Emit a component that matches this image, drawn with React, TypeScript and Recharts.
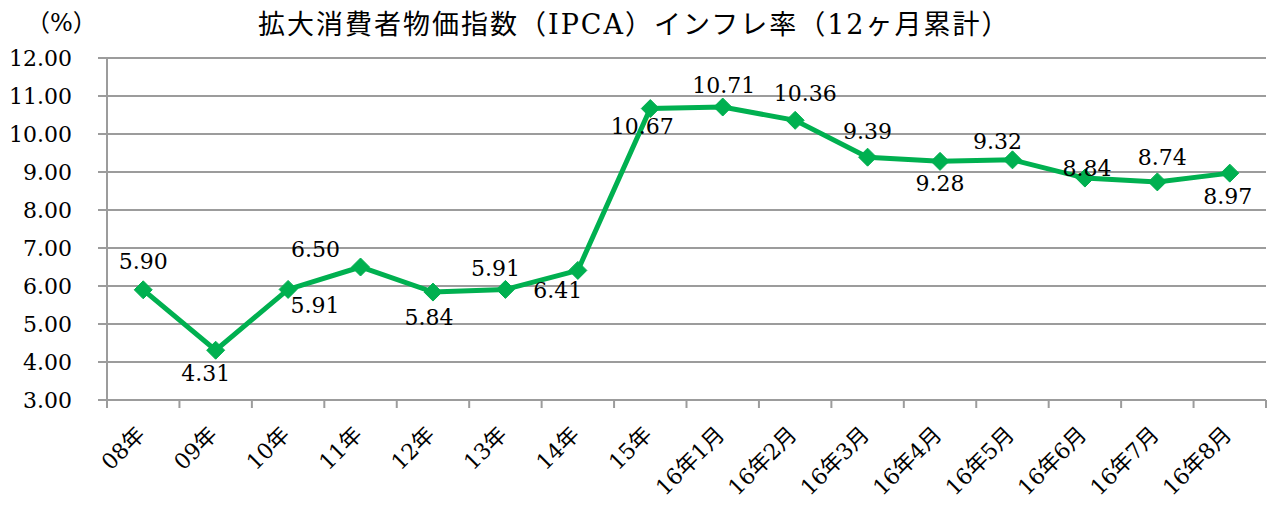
import { LineChart, Line, XAxis, YAxis, CartesianGrid, LabelList } from 'recharts'

const categories = [
  '08年', '09年', '10年', '11年', '12年', '13年', '14年', '15年',
  '16年1月', '16年2月', '16年3月', '16年4月', '16年5月', '16年6月', '16年7月', '16年8月',
]
const inflation = [5.9, 4.31, 5.91, 6.5, 5.84, 5.91, 6.41, 10.67, 10.71, 10.36, 9.39, 9.28, 9.32, 8.84, 8.74, 8.97]
const yTicks = [3, 4, 5, 6, 7, 8, 9, 10, 11, 12]

// where each data label sits relative to its marker (as in the original)
const labelOffsets: Array<[number, number]> = [
  [0, -29], [-10, 23], [27, 16], [-45, -18], [-4, 25], [-10, -21], [-20, 20], [-8, 18],
  [1, -22], [10, -27], [0, -26], [0, 22], [-15, -19], [2, -10], [5, -25], [-2, 23],
]

const GREEN = '#00b050'
const GRID = '#9c9c9c'
const FONT = '"DejaVu Serif", "Noto Sans CJK JP", serif'

const data = categories.map((name, i) => ({ name, x: i + 0.5, value: inflation[i] }))
const xTicks: number[] = []
for (let i = 0; i <= categories.length; i++) {
  xTicks.push(i)
  if (i < categories.length) xTicks.push(i + 0.5)
}

const XTick = (props: any) => {
  const { x, y, payload } = props
  const v = payload.value as number
  if (Number.isInteger(v)) {
    return <line x1={x} x2={x} y1={y} y2={y + 8} stroke={GRID} strokeWidth={2} />
  }
  const ax = x + 3
  const ay = y + 36
  return (
    <text
      x={ax}
      y={ay}
      transform={`rotate(-45 ${ax} ${ay})`}
      textAnchor="end"
      fontSize={22}
      fontFamily={FONT}
      fill="#000"
    >
      {categories[Math.floor(v)]}
    </text>
  )
}

const Diamond = (props: any) => {
  const { cx, cy } = props
  if (cx == null || cy == null) return null
  const r = 9
  return (
    <polygon
      points={`${cx},${cy - r} ${cx + r},${cy} ${cx},${cy + r} ${cx - r},${cy}`}
      fill={GREEN}
      stroke={GREEN}
      strokeWidth={1}
    />
  )
}

const ValueLabel = (props: any) => {
  const { x, y, value, index } = props
  const [dx, dy] = labelOffsets[index] || [0, -20]
  return (
    <text
      x={x + dx}
      y={y + dy}
      dy="0.36em"
      textAnchor="middle"
      fontSize={22}
      fontFamily={FONT}
      fill="#000"
    >
      {Number(value).toFixed(2)}
    </text>
  )
}

export default function App() {
  return (
    <div style={{ position: 'absolute', left: 0, top: 0, width: 1273, height: 506, background: '#fff' }}>
      <div style={{ position: 'absolute', left: 26, top: 3, fontSize: 24, fontFamily: FONT }}>（%）</div>
      <div
        style={{
          position: 'absolute', left: 258, top: 3, fontSize: 27, letterSpacing: 2,
          fontFamily: FONT, whiteSpace: 'nowrap',
        }}
      >
        拡大消費者物価指数（IPCA）インフレ率（12ヶ月累計）
      </div>
      <LineChart width={1273} height={506} data={data} margin={{ top: 58, right: 7, left: 0, bottom: 0 }}>
        <CartesianGrid vertical={false} stroke={GRID} strokeWidth={2} />
        <XAxis
          dataKey="x"
          type="number"
          domain={[0, categories.length]}
          ticks={xTicks}
          interval={0}
          height={106}
          tickSize={0}
          tickMargin={0}
          tickLine={false}
          axisLine={{ stroke: GRID, strokeWidth: 2 }}
          tick={<XTick />}
        />
        <YAxis
          domain={[3, 12]}
          ticks={yTicks}
          interval={0}
          width={107}
          tickSize={9}
          tickMargin={26}
          tickFormatter={(v: number) => v.toFixed(2)}
          tick={{ fill: '#000', fontSize: 22, fontFamily: FONT }}
          tickLine={{ stroke: GRID, strokeWidth: 2 }}
          axisLine={{ stroke: GRID, strokeWidth: 2 }}
        />
        <Line
          type="linear"
          dataKey="value"
          stroke={GREEN}
          strokeWidth={5}
          dot={<Diamond />}
          activeDot={false}
          isAnimationActive={false}
        >
          <LabelList dataKey="value" content={<ValueLabel />} />
        </Line>
      </LineChart>
    </div>
  )
}
